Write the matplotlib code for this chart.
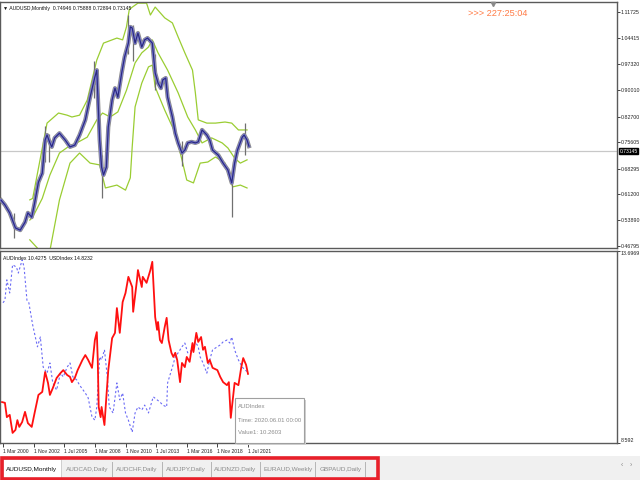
import matplotlib
matplotlib.use('Agg')
import matplotlib.pyplot as plt
from matplotlib.patches import Rectangle

plt.rcParams['font.family'] = ['Liberation Sans', 'DejaVu Sans']

# AUDUSD monthly: month index from Jan 2000 and smoothed close
close_m = [0, 4, 9, 15, 20, 25, 28, 32, 35, 39, 43, 46, 48, 51, 53, 56, 61, 67, 72, 77,
           82, 88, 93, 98, 100, 103, 105, 107, 110, 112, 116, 119, 122, 126, 129, 133,
           135, 137, 140, 143, 147, 150, 153, 158, 161, 164, 167, 169, 172, 174, 179,
           182, 185, 189, 192, 195, 199, 203, 206, 210, 215, 218, 221, 227, 232, 237,
           241, 244, 247, 252, 254, 257, 259]
close_p = [0.595, 0.582, 0.560, 0.518, 0.512, 0.534, 0.560, 0.548, 0.587, 0.645, 0.670,
           0.762, 0.776, 0.754, 0.743, 0.768, 0.781, 0.762, 0.743, 0.748, 0.776, 0.818,
           0.881, 0.937, 0.956, 0.762, 0.687, 0.665, 0.687, 0.798, 0.873, 0.906, 0.881,
           0.948, 0.992, 1.031, 1.076, 1.073, 1.031, 1.059, 1.020, 1.040, 1.045, 1.031,
           0.948, 0.920, 0.906, 0.929, 0.934, 0.881, 0.826, 0.781, 0.754, 0.726, 0.734,
           0.754, 0.757, 0.754, 0.757, 0.790, 0.776, 0.762, 0.734, 0.720, 0.698, 0.679,
           0.643, 0.698, 0.734, 0.770, 0.776, 0.762, 0.745]

# a few visible candle wicks
wick_m = [13, 46, 50, 97, 105, 133, 138, 161, 189, 241, 255]
wick_lo = [0.49, 0.70, 0.70, 0.88, 0.60, 1.00, 0.98, 0.90, 0.69, 0.548, 0.72]
wick_hi = [0.56, 0.80, 0.78, 0.98, 0.72, 1.11, 1.08, 1.00, 0.76, 0.66, 0.81]

# Bollinger bands
upper_m = [30, 33, 48, 60, 69, 74, 82, 90, 100, 107, 121, 127, 131, 134, 143, 152, 156,
           161, 171, 179, 185, 192, 200, 203, 206, 215, 224, 234, 241, 248, 257]
upper_p = [0.596, 0.600, 0.809, 0.837, 0.831, 0.826, 0.831, 0.873, 0.984, 1.031, 1.045,
           1.040, 1.076, 1.125, 1.142, 1.142, 1.109, 1.131, 1.101, 1.087, 1.048, 1.004,
           0.956, 0.893, 0.818, 0.809, 0.809, 0.812, 0.809, 0.790, 0.790]
mid_m = [30, 33, 43, 51, 61, 70, 79, 90, 100, 106, 114, 122, 131, 140, 147, 154, 158,
         164, 174, 185, 195, 203, 210, 220, 231, 237, 244, 250, 257]
mid_p = [0.540, 0.548, 0.600, 0.665, 0.726, 0.743, 0.754, 0.770, 0.818, 0.837, 0.826,
         0.840, 0.900, 0.976, 1.004, 1.020, 1.040, 1.004, 0.956, 0.893, 0.826, 0.790,
         0.754, 0.768, 0.754, 0.740, 0.712, 0.698, 0.707]
low_m = [30, 38, 42, 51, 61, 72, 82, 93, 103, 109, 121, 130, 135, 137, 140, 147, 154,
         158, 161, 171, 182, 189, 194, 201, 208, 216, 224, 234, 237, 242, 250, 257]
low_p = [0.485, 0.462, 0.44, 0.455, 0.596, 0.698, 0.726, 0.698, 0.693, 0.629, 0.637,
         0.623, 0.657, 0.743, 0.854, 0.920, 0.965, 0.970, 0.909, 0.845, 0.781, 0.707,
         0.651, 0.643, 0.698, 0.701, 0.715, 0.698, 0.670, 0.632, 0.637, 0.629]

# sub window: AUDIndex (red) and USDIndex (blue dashed)
aud_m = [1, 4, 6, 9, 12, 15, 17, 19, 22, 25, 28, 32, 35, 39, 43, 46, 49, 51, 54, 58, 62,
         65, 69, 72, 74, 77, 80, 85, 88, 91, 95, 98, 100, 101, 102, 104, 105, 108, 110,
         112, 116, 119, 121, 124, 127, 130, 133, 137, 138, 142, 143, 147, 148, 152, 156,
         158, 161, 163, 164, 166, 168, 171, 173, 175, 178, 180, 182, 184, 187, 189, 192,
         194, 197, 200, 201, 204, 206, 209, 211, 213, 216, 218, 221, 226, 229, 232, 236,
         238, 240, 244, 248, 251, 253, 256, 258]
aud_v = [9.68, 9.66, 9.28, 9.34, 8.86, 8.94, 9.20, 9.02, 9.15, 9.42, 9.12, 9.02, 9.39,
         9.87, 9.95, 10.48, 10.19, 9.87, 10.05, 10.32, 10.45, 10.53, 10.40, 10.35, 10.21,
         10.32, 10.53, 10.80, 10.93, 10.80, 10.59, 11.33, 11.54, 10.80, 9.55, 9.28, 9.55,
         9.07, 9.82, 10.53, 11.38, 11.52, 12.18, 11.52, 12.34, 12.58, 13.01, 12.74, 12.08,
         12.93, 13.19, 12.74, 13.01, 12.85, 13.19, 13.41, 11.94, 11.60, 11.81, 11.33,
         11.25, 11.68, 11.92, 11.33, 10.99, 10.88, 10.99, 10.80, 10.21, 10.72, 10.61,
         10.88, 10.75, 11.25, 11.01, 11.52, 11.28, 11.41, 11.07, 11.15, 10.72, 10.80,
         10.59, 10.53, 10.35, 10.21, 10.13, 10.21, 9.26, 10.19, 10.13, 10.61, 10.85,
         10.67, 10.43]
usd_m = [2, 4, 6, 9, 12, 16, 18, 22, 24, 27, 29, 33, 38, 41, 44, 48, 51, 54, 58, 62, 65,
         69, 72, 75, 79, 82, 88, 91, 95, 98, 100, 103, 105, 108, 111, 113, 117, 121, 124,
         127, 130, 133, 137, 140, 143, 147, 150, 154, 159, 163, 166, 169, 173, 174, 179,
         182, 185, 189, 192, 195, 200, 203, 206, 208, 211, 215, 218, 221, 226, 229, 232,
         236, 239, 241, 244, 248, 252, 255, 258]
usd_v = [12.32, 12.39, 12.93, 12.58, 13.33, 13.27, 13.11, 13.46, 13.27, 12.39, 12.32,
         11.73, 11.15, 11.41, 10.61, 10.45, 10.72, 10.19, 10.00, 10.45, 10.35, 10.61,
         10.72, 10.35, 10.27, 10.13, 9.92, 9.79, 9.28, 9.20, 9.55, 10.88, 10.80, 11.07,
         10.35, 9.55, 9.39, 10.19, 9.74, 9.92, 9.39, 9.20, 8.88, 9.39, 9.55, 9.47, 9.60,
         9.39, 9.82, 9.74, 9.68, 9.60, 9.55, 10.19, 10.61, 10.88, 10.99, 11.15, 11.25,
         10.99, 11.07, 11.28, 11.15, 10.88, 10.72, 10.45, 10.80, 11.07, 11.15, 11.20,
         11.28, 11.33, 11.25, 11.41, 11.07, 10.80, 10.61, 10.53, 10.48]

price_ticks = [1.11725, 1.04415, 0.97320, 0.90010, 0.82700, 0.75605, 0.68295, 0.61200,
               0.53890, 0.46795]
last_price = 0.73145
sub_ticks = [13.6969, 8.592]
date_ticks = [2, 34, 66, 98, 130, 162, 194, 226, 258]
date_labels = ['1 Mar 2000', '1 Nov 2002', '1 Jul 2005', '1 Mar 2008', '1 Nov 2010',
               '1 Jul 2013', '1 Mar 2016', '1 Nov 2018', '1 Jul 2021']
tabs = ['AUDUSD,Monthly', 'AUDCAD,Daily', 'AUDCHF,Daily', 'AUDJPY,Daily', 'AUDNZD,Daily',
        'EURAUD,Weekly', 'GBPAUD,Daily']


def fx(x):
    return x / 640


def fy(y):
    return 1 - y / 480


fig = plt.figure(figsize=(6.4, 4.8), dpi=100)
fig.patch.set_facecolor('white')

ax1 = fig.add_axes([0, fy(248), 617 / 640, 246 / 480])
ax2 = fig.add_axes([0, fy(443), 617 / 640, 192 / 480])

for ax in (ax1, ax2):
    ax.set_xlim(-1.15, 643.6)
    for s in ax.spines.values():
        s.set_color('#5a5a5a')
        s.set_linewidth(1)
    ax.yaxis.tick_right()
    ax.tick_params(axis='y', labelsize=3.8, length=2, width=0.6, pad=0.8, colors='#222222')

# main window
ax1.set_ylim(0.4624, 1.1451)
ax1.axhline(last_price, color='#c8c8c8', lw=0.9, zorder=1)
ax1.plot(upper_m, upper_p, color='#9acd32', lw=0.9, zorder=2)
ax1.plot(mid_m, mid_p, color='#9acd32', lw=0.9, zorder=2)
ax1.plot(low_m, low_p, color='#9acd32', lw=0.9, zorder=2)
ax1.vlines(wick_m, wick_lo, wick_hi, color='#707070', lw=0.9, zorder=3)
ax1.plot(close_m, close_p, color='#8a8a8a', lw=3.0, zorder=3)
ax1.plot(close_m, close_p, color='#8080e0', lw=1.8, zorder=4)
ax1.plot(close_m, close_p, color='#2c2c7c', lw=0.9, zorder=5)
ax1.set_xticks([])
ax1.set_yticks(price_ticks)
ax1.set_yticklabels([f'{t:.5f}' for t in price_ticks])
ax1.text(1.004, last_price, f'{last_price:.5f}', fontsize=3.6, color='white', va='center',
         ha='left', bbox=dict(boxstyle='square,pad=0.15', fc='black', ec='black'),
         transform=ax1.get_yaxis_transform(), clip_on=False)

# sub window
ax2.set_ylim(sub_ticks[1], sub_ticks[0])
ax2.plot(usd_m, usd_v, color='#6a6af5', lw=0.8, ls=(0, (2, 2)), zorder=2)
ax2.plot(aud_m, aud_v, color='#ff1010', lw=1.3, zorder=3)
ax2.set_yticks(sub_ticks)
ax2.set_yticklabels(['13.6969', '8.592'])
yl = ax2.get_yticklabels()
yl[0].set_va('top')
yl[1].set_va('bottom')
ax2.set_xticks(date_ticks)
ax2.set_xticklabels(date_labels)
ax2.tick_params(axis='x', labelsize=3.6, length=3, width=0.6, pad=1.5, colors='#222222')
for lbl in ax2.get_xticklabels():
    lbl.set_ha('left')

# header texts
fig.text(fx(3), fy(8.5), '\u25bc AUDUSD,Monthly  0.74946 0.75888 0.72894 0.73145',
         fontsize=3.7, va='center', ha='left', color='#111111')
fig.text(fx(3), fy(258), 'AUDIndex 10.4275  USDIndex 14.8232', fontsize=3.7,
         va='center', ha='left', color='#111111')
fig.text(fx(468), fy(13.5), '>>> 227:25:04', fontsize=6.6, va='center', ha='left',
         color='#ff7b45')
fig.lines.append(plt.Line2D([fx(493)], [fy(3.5)], marker='v', ms=3, color='#8a8a8a',
                            transform=fig.transFigure))

# tooltip box
fig.patches.append(Rectangle((fx(237), fy(445)), 69 / 640, 45 / 480, transform=fig.transFigure,
                             fc='#d0d0d0', ec='none', zorder=5))
fig.patches.append(Rectangle((fx(235), fy(443)), 69 / 640, 45 / 480, transform=fig.transFigure,
                             fc='white', ec='#a0a0a0', lw=0.8, zorder=6))
for yy, txt in [(407, 'AUDIndex'), (420, 'Time: 2020.06.01 00:00'), (433, 'Value1: 10.2603')]:
    fig.text(fx(238), fy(yy), txt, fontsize=4.3, va='center', ha='left', color='#8c8c8c',
             zorder=7)

# tab bar
fig.patches.append(Rectangle((0, 0), 1, 24 / 480, transform=fig.transFigure,
                             fc='#f0f0f0', ec='none', zorder=0))
fig.patches.append(Rectangle((fx(3), fy(479)), 58 / 640, 20 / 480, transform=fig.transFigure,
                             fc='white', ec='#c8c8c8', lw=0.6, zorder=1))
tab_x = [6, 66, 116, 166, 214, 263, 320]
sep_x = [62, 112, 162, 211, 260, 315, 365]
for i, (xx, name) in enumerate(zip(tab_x, tabs)):
    fig.text(fx(xx), fy(469), name, fontsize=4.6, va='center', ha='left',
             color='#111111' if i == 0 else '#8a8a8a', zorder=3)
for xx in sep_x[1:]:
    fig.lines.append(plt.Line2D([fx(xx), fx(xx)], [fy(476), fy(462)], color='#b5b5b5',
                                lw=0.7, transform=fig.transFigure))
fig.patches.append(Rectangle((fx(1.5), fy(478.5)), 376 / 640, 21 / 480,
                             transform=fig.transFigure, fc='none', ec='#e8202a', lw=2.6,
                             zorder=4))
fig.text(fx(621), fy(466), '\u2039', fontsize=5, color='#888888', va='center')
fig.text(fx(630), fy(466), '\u203a', fontsize=5, color='#888888', va='center')

fig.savefig('out.png', dpi=100)
